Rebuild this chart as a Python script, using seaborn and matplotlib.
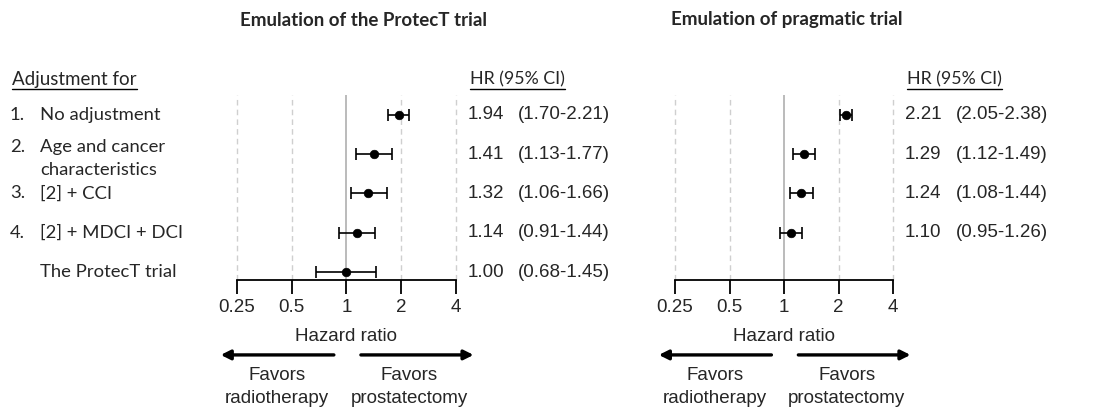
import numpy as np
import pandas as pd
import matplotlib
matplotlib.use("Agg")
import matplotlib.pyplot as plt
import matplotlib.transforms as mtransforms
from matplotlib.lines import Line2D
import seaborn as sns

# Data
row_numbers = ["1.", "2.", "3.", "4.", ""]
row_labels = ["No adjustment", "Age and cancer\ncharacteristics", "[2] + CCI",
              "[2] + MDCI + DCI", "The ProtecT trial"]

protect_hr = [1.94, 1.41, 1.32, 1.14, 1.00]
protect_lo = [1.70, 1.13, 1.06, 0.91, 0.68]
protect_hi = [2.21, 1.77, 1.66, 1.44, 1.45]

pragmatic_hr = [2.21, 1.29, 1.24, 1.10]
pragmatic_lo = [2.05, 1.12, 1.08, 0.95]
pragmatic_hi = [2.38, 1.49, 1.44, 1.26]

xticks = [0.25, 0.5, 1, 2, 4]
xtick_labels = ["0.25", "0.5", "1", "2", "4"]

sns.set_theme(style="white")
plt.rcParams['font.family'] = ['Liberation Sans', 'DejaVu Sans']
label_font = ['Lato', 'DejaVu Sans']

fig = plt.figure(figsize=(11.17, 4.09), dpi=100)
fig.patch.set_facecolor('white')

W, H = 1117, 409
ax_bottom = 1 - 280 / H
ax_height = 185 / H
ax1 = fig.add_axes([237 / W, ax_bottom, 219 / W, ax_height])
ax2 = fig.add_axes([675 / W, ax_bottom, 218 / W, ax_height])


def draw_forest(ax, hr, lo, hi, hr_x, ci_x):
    hr = np.array(hr)
    lo = np.array(lo)
    hi = np.array(hi)
    rows = np.arange(1, len(hr) + 1)
    df = pd.DataFrame({'hr': hr, 'row': rows})

    ax.set_xscale('log', base=2)
    ax.set_xlim(0.25, 4)
    ax.set_ylim(5.2, 0.5)

    # reference lines
    for v in [0.25, 0.5, 2, 4]:
        ax.axvline(v, ls=(0, (4, 3)), color='#cfcfcf', lw=1, clip_on=False, zorder=0)
    ax.axvline(1, color='#a8a8a8', lw=1.1, zorder=0)

    ax.errorbar(hr, rows, xerr=[hr - lo, hi - hr], fmt='none', ecolor='black',
                elinewidth=1.2, capsize=4, capthick=1.2, zorder=2)
    sns.scatterplot(data=df, x='hr', y='row', ax=ax, color='black', s=38,
                    edgecolor='black', zorder=3, legend=False)

    for s in ['top', 'left', 'right']:
        ax.spines[s].set_visible(False)
    ax.spines['bottom'].set_color('black')
    ax.spines['bottom'].set_linewidth(1.3)
    ax.set_xticks(xticks)
    ax.set_xticklabels(xtick_labels)
    ax.minorticks_off()
    ax.tick_params(axis='x', direction='out', length=10, width=1.3, color='black',
                   labelsize=13.5, pad=4, bottom=True)
    ax.set_yticks([])
    ax.set_ylabel('')
    ax.set_xlabel('Hazard ratio', fontsize=13.5, labelpad=8)

    # HR text columns
    tr = mtransforms.blended_transform_factory(fig.transFigure, ax.transData)
    for r, h, l, u in zip(rows, hr, lo, hi):
        ax.text(hr_x, r, f"{h:.2f}", transform=tr, va='center', ha='left', fontsize=13.5)
        ax.text(ci_x, r, f"({l:.2f}-{u:.2f})", transform=tr, va='center', ha='left',
                fontsize=13.5)
    hdr = ax.text(hr_x + 2 / W, 0.11, "HR (95% CI)", transform=tr, va='center', ha='left',
                  fontsize=12.8, family=label_font)

    # direction arrows
    arrow_y = -0.405
    ax.annotate('', xy=(-0.087, arrow_y), xytext=(0.455, arrow_y), xycoords='axes fraction',
                arrowprops=dict(arrowstyle='-|>', lw=2.4, color='black', mutation_scale=14))
    ax.annotate('', xy=(1.093, arrow_y), xytext=(0.553, arrow_y), xycoords='axes fraction',
                arrowprops=dict(arrowstyle='-|>', lw=2.4, color='black', mutation_scale=14))
    ax.text(0.183, -0.47, "Favors\nradiotherapy", transform=ax.transAxes, ha='center',
            va='top', fontsize=13.5, linespacing=1.45)
    ax.text(0.787, -0.47, "Favors\nprostatectomy", transform=ax.transAxes, ha='center',
            va='top', fontsize=13.5, linespacing=1.45)
    return hdr


hdr1 = draw_forest(ax1, protect_hr, protect_lo, protect_hi, 468 / W, 518 / W)
hdr2 = draw_forest(ax2, pragmatic_hr, pragmatic_lo, pragmatic_hi, 905 / W, 956 / W)

# row labels on the left
tr1 = mtransforms.blended_transform_factory(fig.transFigure, ax1.transData)
line_step = 0.586
for i, (num, lab) in enumerate(zip(row_numbers, row_labels)):
    r = i + 1
    n = lab.count('\n') + 1
    first = r - 0.18 * (n - 1)
    ax1.text(10 / W, first, num, transform=tr1, va='center', ha='left', fontsize=13.3,
             family=label_font)
    ax1.text(40 / W, first + line_step * (n - 1) / 2, lab, transform=tr1, va='center',
             ha='left', fontsize=13.3, family=label_font, linespacing=1.5)
hdr0 = ax1.text(12 / W, 0.11, "Adjustment for", transform=tr1, va='center', ha='left',
                fontsize=13.5, family=label_font)

# titles
fig.text(364 / W, 1 - 20 / H, "Emulation of the ProtecT trial", ha='center', va='center',
         fontsize=13.5, fontweight='bold', family=label_font)
fig.text(787 / W, 1 - 20 / H, "Emulation of pragmatic trial", ha='center', va='center',
         fontsize=13.5, fontweight='bold', family=label_font)

# underline the column headers
fig.canvas.draw()
renderer = fig.canvas.get_renderer()
for t in [hdr0, hdr1, hdr2]:
    bb = t.get_window_extent(renderer)
    y = (bb.y0 - 1) / H
    fig.add_artist(Line2D([bb.x0 / W, bb.x1 / W], [y, y], color='black', lw=1,
                          transform=fig.transFigure))

fig.savefig('out.png', dpi=100, facecolor='white')
